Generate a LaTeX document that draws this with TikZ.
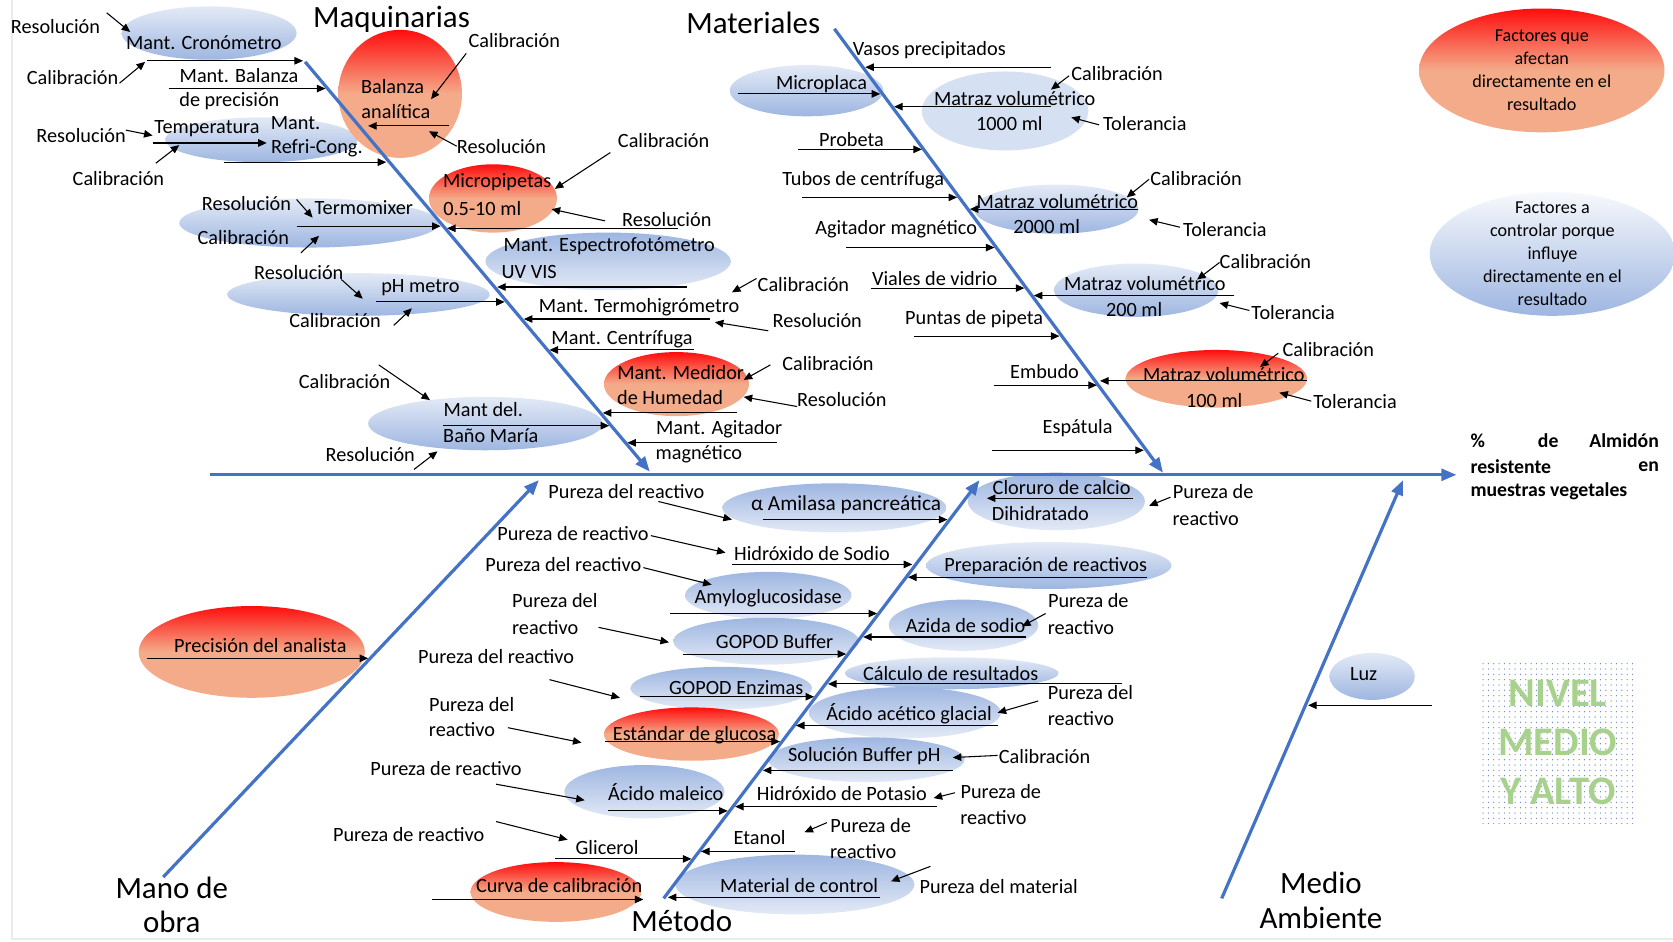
\documentclass[tikz,border=0pt]{standalone}
\usepackage{fontspec}
\setmainfont{Carlito}
\usetikzlibrary{arrows.meta,shapes.geometric,patterns.meta}
\definecolor{boneblue}{HTML}{4472C4}
\definecolor{redtop}{HTML}{FF0D0D}
\definecolor{salmon}{HTML}{F4AB8A}
\definecolor{bluetop}{HTML}{E3EAF6}
\definecolor{bluebot}{HTML}{9EB6E1}
\definecolor{nivgreen}{HTML}{A9D18E}
\definecolor{dotblue}{HTML}{5F84CE}
\newcommand{\fs}{\fontsize{19}{23}\selectfont}
\begin{document}
\begin{tikzpicture}[x=1pt,y=-1pt,
 t/.style={inner sep=0pt, font=\fs},
 ttl/.style={inner sep=0pt, font=\fontsize{29}{35}\selectfont},
 leg/.style={inner sep=0pt, align=center, font=\fontsize{17}{21.7}\selectfont},
 bt/.style={inner sep=0pt, font=\fontsize{18.5}{23}\selectfont\bfseries},
 arr/.style={draw=black, line width=1pt, -{Triangle[length=8pt,width=7pt]}},
 bone/.style={draw=boneblue, line width=3pt, -{Triangle[length=14pt,width=11pt]}},
 redsh/.style={top color=redtop, bottom color=salmon, middle color=salmon},
 bluesh/.style={top color=bluetop, bottom color=bluebot},
 bluesh2/.style={top color=bluebot, bottom color=bluetop},
]
\useasboundingbox (0,0) rectangle (1568,882);
\fill[white] (0,0) rectangle (1568,882);
\draw[black!8, line width=1.5pt] (11,0) -- (11,880) -- (1568,880);

% ---------- ellipses ----------
% blue
\shade[bluesh] (196,31) ellipse [x radius=82, y radius=25];
\shade[bluesh] (245,131) ellipse [x radius=90, y radius=21];
\shade[bluesh] (290,209) ellipse [x radius=122, y radius=23];
\shade[bluesh2] (570,245) ellipse [x radius=115, y radius=27];
\shade[bluesh] (336,276) ellipse [x radius=123, y radius=20];
\shade[bluesh] (455,397) ellipse [x radius=110, y radius=25];
\shade[bluesh] (756,85) ellipse [x radius=72, y radius=24];
\fill[bluetop!80!bluebot] (942,104) ellipse [x radius=78, y radius=37];
\shade[bluesh] (990,196) ellipse [x radius=77, y radius=23];
\shade[bluesh] (1065,272) ellipse [x radius=77, y radius=25];
\shade[bluesh2] (782,476) ellipse [x radius=105, y radius=23];
\shade[bluesh2] (990,470) ellipse [x radius=83, y radius=27];
\shade[bluesh] (983,530) ellipse [x radius=115, y radius=22];
\shade[bluesh2] (720,558) ellipse [x radius=78, y radius=22];
\shade[bluesh2] (903,586) ellipse [x radius=70, y radius=24];
\shade[bluesh2] (718,601) ellipse [x radius=87, y radius=22];
\shade[bluesh] (892,631) ellipse [x radius=100, y radius=15];
\shade[bluesh2] (676,645) ellipse [x radius=85, y radius=20];
\shade[bluesh2] (848,668) ellipse [x radius=90, y radius=24];
\shade[bluesh2] (812,712) ellipse [x radius=92, y radius=21];
\shade[bluesh2] (604,742) ellipse [x radius=75, y radius=25];
\shade[bluesh2] (745,829) ellipse [x radius=112, y radius=28];
\shade[bluesh] (1286,634) ellipse [x radius=40, y radius=22];
\shade[top color=white!70!bluetop, bottom color=bluebot] (1455,238) ellipse [x radius=115, y radius=58];
% red
\shade[redsh] (375,88) ellipse [x radius=58, y radius=60];
\shade[redsh] (462,186) ellipse [x radius=60, y radius=32];
\shade[redsh] (634,360) ellipse [x radius=68, y radius=30];
\shade[redsh] (1140,355) ellipse [x radius=85, y radius=27];
\shade[redsh] (236,611) ellipse [x radius=106, y radius=43];
\shade[redsh] (648,688) ellipse [x radius=82, y radius=25];
\shade[redsh] (521,836) ellipse [x radius=80, y radius=28];
\shade[redsh] (1445,66) ellipse [x radius=115, y radius=58];

% ---------- bones ----------
\coordinate (sp1) at (197,445); \coordinate (sp2) at (1365,445);
\coordinate (mq1) at (286,58);  \coordinate (mq2) at (609,442);
\coordinate (ma1) at (782,27);  \coordinate (ma2) at (1090,443);
\coordinate (mo1) at (153,822); \coordinate (mo2) at (505,450);
\coordinate (me1) at (622,842); \coordinate (me2) at (918,450);
\coordinate (am1) at (1145,842);\coordinate (am2) at (1315,450);
\draw[bone] (sp1) -- (sp2);
\draw[bone] (mq1) -- (mq2);
\draw[bone] (ma1) -- (ma2);
\draw[bone] (mo1) -- (mo2);
\draw[bone] (me1) -- (me2);
\draw[bone] (am1) -- (am2);

% ---------- titles ----------
\node[ttl] (tq) at (367,18) {Maquinarias};
\node[ttl] (tm) at (706,21) {Materiales};
\node[ttl] (tmo1) at (161,832) {Mano de};
\node[ttl] (tmo2) at (161,864) {obra};
\node[ttl] (tme) at (639,863) {Método};
\node[ttl] (tam1) at (1238,827) {Medio};
\node[ttl] (tam2) at (1238,860) {Ambiente};

% ---------- Maquinarias ----------
\node[t] (q1) at (52,25) {Resolución};
\node[t] (q2) at (191,40) {Mant. Cronómetro};
\node[t] (q3) at (68,73) {Calibración};
\node[t] (q4) at (224,71) {Mant. Balanza};
\node[t] (q5) at (215,95) {de precisión};
\node[t] (q6) at (368,81) {Balanza};
\node[t] (q7) at (371,105) {analítica};
\node[t] (q8) at (482,38) {Calibración};
\node[t] (q9) at (470,137) {Resolución};
\node[t] (q10) at (76,127) {Resolución};
\node[t] (q11) at (194,121) {Temperatura};
\node[t] (q12) at (277,115) {Mant.};
\node[t] (q13) at (297,139) {Refri-Cong.};
\node[t] (q14) at (111,167) {Calibración};
\node[t] (q15) at (466,171) {Micropipetas};
\node[t] (q16) at (452,195) {0.5-10 ml};
\node[t] (q17) at (622,132) {Calibración};
\node[t] (q18) at (625,206) {Resolución};
\node[t] (q19) at (231,191) {Resolución};
\node[t] (q20) at (341,195) {Termomixer};
\node[t] (q21) at (228,223) {Calibración};
\node[t] (q22) at (571,231) {Mant. Espectrofotómetro};
\node[t] (q23) at (496,255) {UV VIS};
\node[t] (q24) at (280,255) {Resolución};
\node[t] (q25) at (394,270) {pH metro};
\node[t] (q26) at (314,300) {Calibración};
\node[t] (q27) at (753,267) {Calibración};
\node[t] (q28) at (599,288) {Mant. Termohigrómetro};
\node[t] (q29) at (766,300) {Resolución};
\node[t] (q30) at (583,318) {Mant. Centrífuga};
\node[t] (q31) at (638,349) {Mant. Medidor};
\node[t] (q32) at (628,373) {de Humedad};
\node[t] (q33) at (776,341) {Calibración};
\node[t] (q34) at (789,374) {Resolución};
\node[t] (q35) at (323,358) {Calibración};
\node[t] (q36) at (453,384) {Mant del.};
\node[t] (q37) at (460,408) {Baño María};
\node[t] (q38) at (347,426) {Resolución};
\node[t] (q39) at (674,402) {Mant. Agitador};
\node[t] (q40) at (655,426) {magnético};

\draw[arr] (100,12) -- (122,30);
\draw[arr] (112,78) -- (136,58);
\draw[arr] (138,57) -- (284,57);
\draw[arr] (158,83) -- (305,83);
\draw[arr] (421,118) -- (345,118);
\draw[arr] (437,50) -- (404,93);
\draw[arr] (428,137) -- (402,123);
\draw[arr] (118,122) -- (143,127);
\draw[arr] (143,134) -- (250,134);
\draw[arr] (146,153) -- (168,136);
\draw[arr] (210,152) -- (362,152);
\draw[arr] (572,143) -- (520,177);
\draw[arr] (567,207) -- (517,196);
\draw[arr] (635,214) -- (419,214);
\draw[arr] (278,187) -- (293,204);
\draw[arr] (282,237) -- (299,221);
\draw[arr] (278,212) -- (413,212);
\draw[arr] (644,269) -- (466,269);
\draw[arr] (320,262) -- (340,280);
\draw[arr] (369,305) -- (386,289);
\draw[arr] (352,283) -- (473,283);
\draw[arr] (709,261) -- (686,274);
\draw[arr] (720,310) -- (670,302);
\draw[arr] (665,299) -- (491,299);
\draw[arr] (650,328) -- (515,328);
\draw[arr] (691,387) -- (565,387);
\draw[arr] (722,342) -- (697,356);
\draw[arr] (747,381) -- (697,372);
\draw[arr] (355,342) -- (403,375);
\draw[arr] (388,440) -- (410,423);
\draw[arr] (415,399) -- (571,399);
\draw[arr] (728,415) -- (588,415);

% ---------- Materiales ----------
\node[t] (m1) at (871,47) {Vasos precipitados};
\node[t] (m2) at (770,79) {Microplaca};
\node[t] (m3) at (951,92) {Matraz volumétrico};
\node[t] (m4) at (946,116) {1000 ml};
\node[t] (m5) at (1047,69) {Calibración};
\node[t] (m6) at (1073,116) {Tolerancia};
\node[t] (m7) at (798,131) {Probeta};
\node[t] (m8) at (809,169) {Tubos de centrífuga};
\node[t] (m9) at (991,189) {Matraz volumétrico};
\node[t] (m10) at (981,212) {2000 ml};
\node[t] (m11) at (1121,167) {Calibración};
\node[t] (m12) at (1148,215) {Tolerancia};
\node[t] (m13) at (840,215) {Agitador magnético};
\node[t] (m14) at (876,261) {Viales de vidrio};
\node[t] (m15) at (1073,266) {Matraz volumétrico};
\node[t] (m16) at (1063,290) {200 ml};
\node[t] (m17) at (1186,245) {Calibración};
\node[t] (m18) at (1212,293) {Tolerancia};
\node[t] (m19) at (913,299) {Puntas de pipeta};
\node[t] (m20) at (979,348) {Embudo};
\node[t] (m21) at (1147,351) {Matraz volumétrico};
\node[t] (m22) at (1138,375) {100 ml};
\node[t] (m23) at (1245,328) {Calibración};
\node[t] (m24) at (1270,376) {Tolerancia};
\node[t] (m25) at (1010,401) {Espátula};

\draw[arr] (985,63) -- (811,63);
\draw[arr] (692,88) -- (825,88);
\draw[arr] (985,100) -- (838,100);
\draw[arr] (1002,71) -- (985,84);
\draw[arr] (1030,117) -- (1004,110);
\draw[arr] (748,140) -- (864,140);
\draw[arr] (752,185) -- (897,185);
\draw[arr] (1067,196) -- (909,196);
\draw[arr] (1077,168) -- (1056,185);
\draw[arr] (1106,213) -- (1077,206);
\draw[arr] (793,232) -- (932,232);
\draw[arr] (816,270) -- (960,270);
\draw[arr] (1157,277) -- (969,277);
\draw[arr] (1143,246) -- (1122,262);
\draw[arr] (1171,291) -- (1143,284);
\draw[arr] (857,315) -- (993,315);
\draw[arr] (932,361) -- (1028,361);
\draw[arr] (1225,357) -- (1031,357);
\draw[arr] (1198,331) -- (1181,344);
\draw[arr] (1229,376) -- (1199,368);
\draw[arr] (930,422) -- (1072,422);

% ---------- Mano de obra ----------
\node[t] (o1) at (244,605) {Precisión del analista};
\draw[arr] (138,617) -- (345,617);

% ---------- Método ----------
\node[t] (e1) at (587,461) {Pureza del reactivo};
\node[t, font=\fontsize{20}{24}\selectfont] (e2) at (793,473) {α Amilasa pancreática};
\node[t] (e3) at (537,500) {Pureza de reactivo};
\node[t] (e4) at (761,519) {Hidróxido de Sodio};
\node[t] (e5) at (528,529) {Pureza del reactivo};
\node[t] (e6) at (720,561) {Amyloglucosidase};
\node[t] (e7) at (520,563) {Pureza del};
\node[t] (e8) at (511,588) {reactivo};
\node[t] (e9) at (726,601) {GOPOD Buffer};
\node[t] (e10) at (465,615) {Pureza del reactivo};
\node[t] (e11) at (690,644) {GOPOD Enzimas};
\node[t] (e12) at (442,660) {Pureza del};
\node[t] (e13) at (433,684) {reactivo};
\node[t] (e14) at (651,689) {Estándar de glucosa};
\node[t] (e15) at (418,720) {Pureza de reactivo};
\node[t] (e16) at (624,742) {Ácido maleico};
\node[t] (e17) at (383,782) {Pureza de reactivo};
\node[t] (e18) at (569,794) {Glicerol};
\node[t] (e19) at (524,830) {Curva de calibración};
\node[t] (e20) at (995,457) {Cloruro de calcio};
\node[t] (e21) at (975,481) {Dihidratado};
\node[t] (e22) at (1137,461) {Pureza de};
\node[t] (e23) at (1130,486) {reactivo};
\node[t] (e24) at (980,531) {Preparación de reactivos};
\node[t] (e25) at (905,586) {Azida de sodio};
\node[t] (e26) at (1020,563) {Pureza de};
\node[t] (e27) at (1013,588) {reactivo};
\node[t] (e28) at (891,631) {Cálculo de resultados};
\node[t] (e29) at (852,669) {Ácido acético glacial};
\node[t] (e30) at (1022,649) {Pureza del};
\node[t] (e31) at (1013,673) {reactivo};
\node[t] (e32) at (810,709) {Solución Buffer pH};
\node[t] (e33) at (979,709) {Calibración};
\node[t] (e34) at (789,744) {Hidróxido de Potasio};
\node[t] (e35) at (938,742) {Pureza de};
\node[t] (e36) at (931,766) {reactivo};
\node[t] (e37) at (712,785) {Etanol};
\node[t] (e38) at (816,774) {Pureza de};
\node[t] (e39) at (809,798) {reactivo};
\node[t] (e40) at (749,830) {Material de control};
\node[t] (e41) at (936,831) {Pureza del material};

\draw[arr] (617,470) -- (686,487);
\draw[arr] (715,487) -- (888,487);
\draw[arr] (610,502) -- (680,518);
\draw[arr] (686,529) -- (855,529);
\draw[arr] (603,532) -- (667,548);
\draw[arr] (628,575) -- (822,575);
\draw[arr] (561,588) -- (627,602);
\draw[arr] (640,613) -- (793,613);
\draw[arr] (515,637) -- (581,654);
\draw[arr] (600,653) -- (763,653);
\draw[arr] (476,682) -- (545,696);
\draw[arr] (567,695) -- (731,695);
\draw[arr] (465,735) -- (548,750);
\draw[arr] (570,760) -- (682,760);
\draw[arr] (465,770) -- (532,787);
\draw[arr] (520,805) -- (648,805);
\draw[arr] (405,843) -- (603,843);
\draw[arr] (1062,467) -- (925,467);
\draw[arr] (1097,466) -- (1077,474);
\draw[arr] (1075,541) -- (851,541);
\draw[arr] (962,597) -- (809,597);
\draw[arr] (980,575) -- (958,587);
\draw[arr] (1052,641) -- (776,641);
\draw[arr] (935,680) -- (746,680);
\draw[arr] (973,657) -- (935,668);
\draw[arr] (893,722) -- (715,722);
\draw[arr] (935,708) -- (893,710);
\draw[arr] (878,756) -- (689,756);
\draw[arr] (895,743) -- (875,748);
\draw[arr] (745,798) -- (657,798);
\draw[arr] (775,771) -- (754,780);
\draw[arr] (825,841) -- (626,841);
\draw[arr] (872,812) -- (835,826);

% ---------- Medio Ambiente ----------
\node[t] (a1) at (1278,632) {Luz};
\draw[arr] (1342,661) -- (1226,661);

% ---------- legend ----------
\node[leg] (l1) at (1445,66) {Factores que\\afectan\\directamente en el\\resultado};
\node[leg] (l2) at (1455,238) {Factores a\\controlar porque\\influye\\directamente en el\\resultado};

\node[bt, anchor=west] (r1) at (1378,413) {\%};
\node[bt] (r2) at (1451,413) {de};
\node[bt, anchor=east] (r3) at (1555,413) {Almidón};
\node[bt, anchor=west] (r4) at (1378,437) {resistente};
\node[bt, anchor=east] (r5) at (1555,437) {en};
\node[bt, anchor=west] (r6) at (1378,460) {muestras vegetales};

\fill[pattern={Dots[distance=5pt, radius=0.6pt]}, pattern color=dotblue] (1387,620) rectangle (1532,772);
\node[inner sep=0pt, align=center, text=nivgreen, font=\fontsize{38}{46}\selectfont\bfseries] (niv) at (1460,696) {NIVEL\\MEDIO\\Y ALTO};
\end{tikzpicture}
\end{document}
